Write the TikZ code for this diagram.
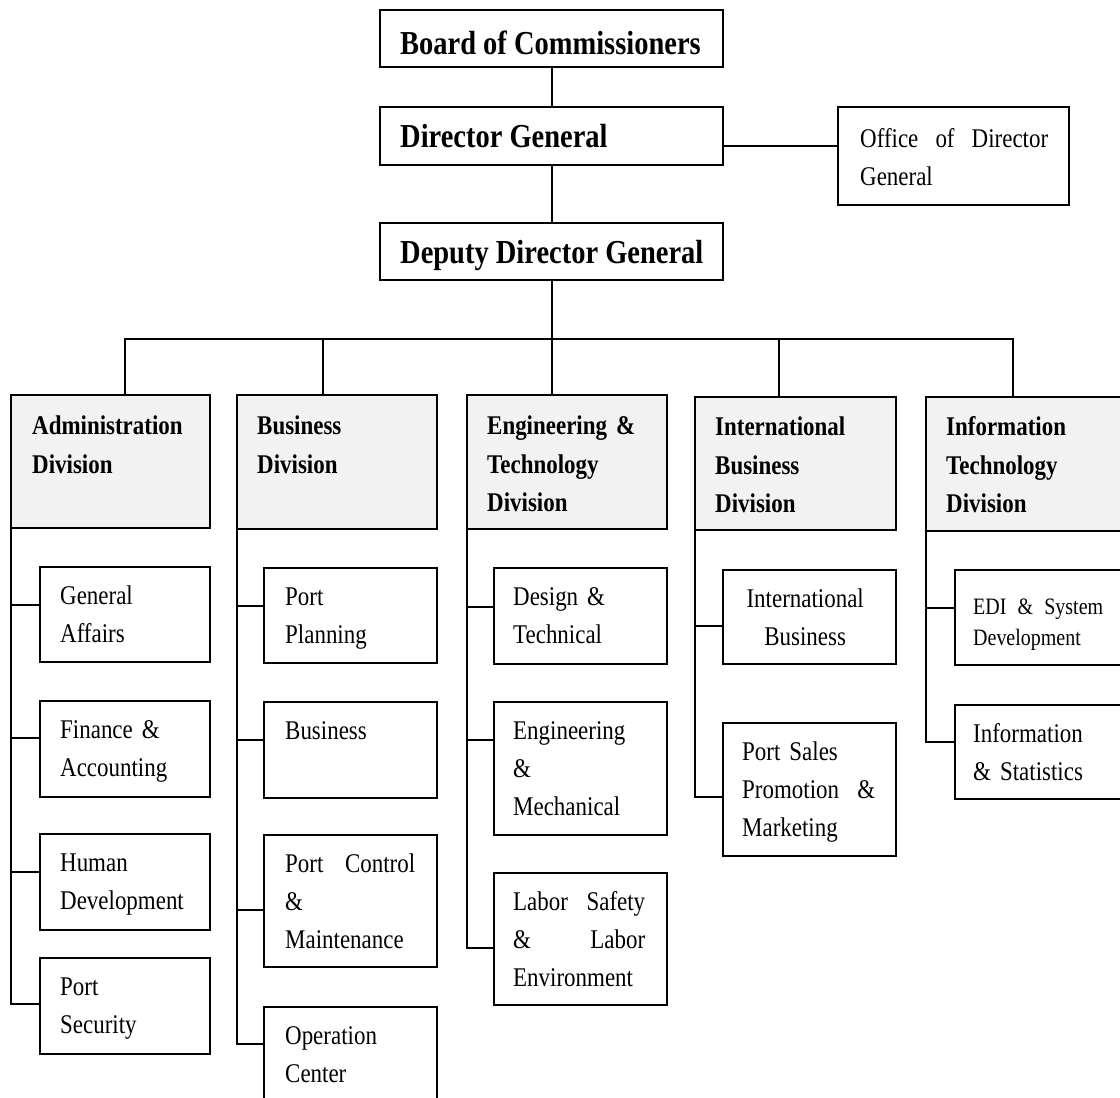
\documentclass[tikz,border=0pt]{standalone}
\usepackage{fontspec}
\setmainfont{Liberation Serif}[FakeStretch=0.85]
\newcommand\subfont{\fontsize{27}{38}\selectfont}
\newcommand\edifont{\fontsize{23.5}{31}\selectfont}
\newcommand\divfont{\bfseries\fontsize{27}{38.5}\selectfont}
\newcommand\topfont{\bfseries\fontsize{33.5}{40}\selectfont}
\newcommand\spread[2]{\hbox to #1{#2}}
\tikzset{
  ln/.style={line width=2pt},
  topbox/.style={draw, line width=2pt, anchor=north west, inner sep=0pt, outer sep=0pt, fill=white},
  divbox/.style={draw, line width=2pt, anchor=north west, inner sep=0pt, outer sep=0pt, fill=black!5},
  subbox/.style={draw, line width=2pt, anchor=north west, inner sep=0pt, outer sep=0pt, fill=white},
  subtxt/.style={anchor=north west, inner sep=0pt, align=left, text width=132pt, font=\subfont},
  divtxt/.style={anchor=north west, inner sep=0pt, align=left, text width=170pt, font=\divfont},
  toptxt/.style={anchor=base west, inner sep=0pt, font=\topfont},
}
\begin{document}
\begin{tikzpicture}[x=1pt,y=-1pt]
\useasboundingbox (0,0) rectangle (1120,1098);
\clip (0,0) rectangle (1120,1098);
\fill[white] (0,0) rectangle (1120,1098);

% top boxes
\node[topbox, minimum width=343pt, minimum height=57pt] (board) at (380,10) {};
\node[topbox, minimum width=343pt, minimum height=58pt] (dg) at (380,107) {};
\node[topbox, minimum width=343pt, minimum height=57pt] (ddg) at (380,223) {};
\node[topbox, minimum width=231pt, minimum height=98pt] (office) at (838,107) {};
\node[toptxt] (board-t) at (400,54) {Board of Commissioners};
\node[toptxt] (dg-t) at (400,147) {Director General};
\node[toptxt] (ddg-t) at (400,263) {Deputy Director General};
\node[subtxt, text width=188pt] (office-t) at ([shift={(22pt,-13.4pt)}]office.north west)
  {\strut\spread{188pt}{Office\hfil of\hfil Director}\\General};

% divisions
\node[divbox, minimum width=199pt, minimum height=133pt] (adm) at (11,395) {};
\node[divbox, minimum width=200pt, minimum height=134pt] (bus) at (237,395) {};
\node[divbox, minimum width=200pt, minimum height=134pt] (eng) at (467,395) {};
\node[divbox, minimum width=201pt, minimum height=133pt] (intl) at (695,397) {};
\node[divbox, minimum width=210pt, minimum height=134pt] (it) at (926,397) {};
\node[divtxt] (adm-t) at ([shift={(21pt,-12.4pt)}]adm.north west) {\strut Administration\\Division};
\node[divtxt] (bus-t) at ([shift={(20pt,-12.4pt)}]bus.north west) {\strut Business\\Division};
\node[divtxt] (eng-t) at ([shift={(20pt,-12.4pt)}]eng.north west) {\strut Engineering \&\\Technology\\Division};
\node[divtxt] (intl-t) at ([shift={(20pt,-11.4pt)}]intl.north west) {\strut International\\Business\\Division};
\node[divtxt] (it-t) at ([shift={(20pt,-11.4pt)}]it.north west) {\strut Information\\Technology\\Division};

% administration sub-units
\node[subbox, minimum width=170pt, minimum height=95pt] (ga) at (40,567) {};
\node[subbox, minimum width=170pt, minimum height=96pt] (fa) at (40,701) {};
\node[subbox, minimum width=170pt, minimum height=96pt] (hd) at (40,834) {};
\node[subbox, minimum width=170pt, minimum height=96pt] (ps) at (40,958) {};
% business sub-units
\node[subbox, minimum width=173pt, minimum height=95pt] (pp) at (264,568) {};
\node[subbox, minimum width=173pt, minimum height=96pt] (bu) at (264,702) {};
\node[subbox, minimum width=173pt, minimum height=132pt] (pc) at (264,835) {};
\node[subbox, minimum width=173pt, minimum height=140pt] (oc) at (264,1007) {};
% engineering sub-units
\node[subbox, minimum width=173pt, minimum height=96pt] (dt) at (494,568) {};
\node[subbox, minimum width=173pt, minimum height=133pt] (em) at (494,702) {};
\node[subbox, minimum width=173pt, minimum height=132pt] (ls) at (494,873) {};
% international sub-units
\node[subbox, minimum width=173pt, minimum height=94pt] (ib) at (723,570) {};
\node[subbox, minimum width=173pt, minimum height=133pt] (sp) at (723,723) {};
% IT sub-units
\node[subbox, minimum width=180pt, minimum height=95pt] (edi) at (955,570) {};
\node[subbox, minimum width=180pt, minimum height=94pt] (is) at (955,705) {};

% texts of sub-units
\node[subtxt] (ga-t) at ([shift={(20pt,-11pt)}]ga.north west) {\strut General\\Affairs};
\node[subtxt] (fa-t) at ([shift={(20pt,-11pt)}]fa.north west) {\strut Finance \&\\Accounting};
\node[subtxt] (hd-t) at ([shift={(20pt,-11pt)}]hd.north west) {\strut Human\\Development};
\node[subtxt] (ps-t) at ([shift={(20pt,-11pt)}]ps.north west) {\strut Port\\Security};
\node[subtxt] (pp-t) at ([shift={(21pt,-11pt)}]pp.north west) {\strut Port\\Planning};
\node[subtxt] (bu-t) at ([shift={(21pt,-11pt)}]bu.north west) {\strut Business};
\node[subtxt, text width=130pt] (pc-t) at ([shift={(21pt,-11pt)}]pc.north west)
  {\strut\spread{130pt}{Port\hfil Control}\\\&\\Maintenance};
\node[subtxt] (oc-t) at ([shift={(21pt,-11pt)}]oc.north west) {\strut Operation\\Center};
\node[subtxt] (dt-t) at ([shift={(19pt,-11pt)}]dt.north west) {\strut Design \&\\Technical};
\node[subtxt] (em-t) at ([shift={(19pt,-11pt)}]em.north west) {\strut Engineering\\\&\\Mechanical};
\node[subtxt] (ls-t) at ([shift={(19pt,-11pt)}]ls.north west)
  {\strut\spread{132pt}{Labor\hfil Safety}\\\strut\spread{132pt}{\&\hfil Labor}\\Environment};
\node[subtxt, align=center, text width=124pt] (ib-t) at ([shift={(20pt,-11pt)}]ib.north west) {\strut International\\Business};
\node[subtxt] (sp-t) at ([shift={(19pt,-11pt)}]sp.north west)
  {\strut Port Sales\\\strut\spread{133pt}{Promotion\hfil\&}\\Marketing};
\node[subtxt, font=\edifont, text width=130pt] (edi-t) at ([shift={(18pt,-23pt)}]edi.north west)
  {\strut\spread{130pt}{EDI\hfil\&\hfil System}\\Development};
\node[subtxt] (is-t) at ([shift={(18pt,-11pt)}]is.north west) {\strut Information\\\& Statistics};

% top connectors
\draw[ln] (board.south) -- (dg.north);
\draw[ln] (dg.south) -- (ddg.north);
\draw[ln] ([yshift=-10pt]dg.east) -- ([yshift=-10pt]dg.east -| office.west);

% bus
\coordinate (d1) at (125,339);
\coordinate (d2) at (323,339);
\coordinate (d4) at (779,339);
\coordinate (d5) at (1013,339);
\draw[ln] (ddg.south) -- (ddg.south |- eng.north);
\draw[ln] (d1 |- adm.north) -- (d1) -- (d5) -- (d5 |- it.north);
\draw[ln] (d2) -- (d2 |- bus.north);
\draw[ln] (d4) -- (d4 |- intl.north);

% spines
\draw[ln] (adm.south west) |- ([yshift=-38pt]ga.north west);
\draw[ln] (adm.south west) |- ([yshift=-37pt]fa.north west);
\draw[ln] (adm.south west) |- ([yshift=-38pt]hd.north west);
\draw[ln] (adm.south west) |- ([yshift=-46pt]ps.north west);
\draw[ln] (bus.south west) |- ([yshift=-38pt]pp.north west);
\draw[ln] (bus.south west) |- ([yshift=-38pt]bu.north west);
\draw[ln] (bus.south west) |- ([yshift=-75pt]pc.north west);
\draw[ln] (bus.south west) |- ([yshift=-37pt]oc.north west);
\draw[ln] (eng.south west) |- ([yshift=-39pt]dt.north west);
\draw[ln] (eng.south west) |- ([yshift=-38pt]em.north west);
\draw[ln] (eng.south west) |- ([yshift=-75pt]ls.north west);
\draw[ln] (intl.south west) |- ([yshift=-56pt]ib.north west);
\draw[ln] (intl.south west) |- ([yshift=-74pt]sp.north west);
\draw[ln] (it.south west) |- ([yshift=-38pt]edi.north west);
\draw[ln] (it.south west) |- ([yshift=-37pt]is.north west);
\end{tikzpicture}
\end{document}
